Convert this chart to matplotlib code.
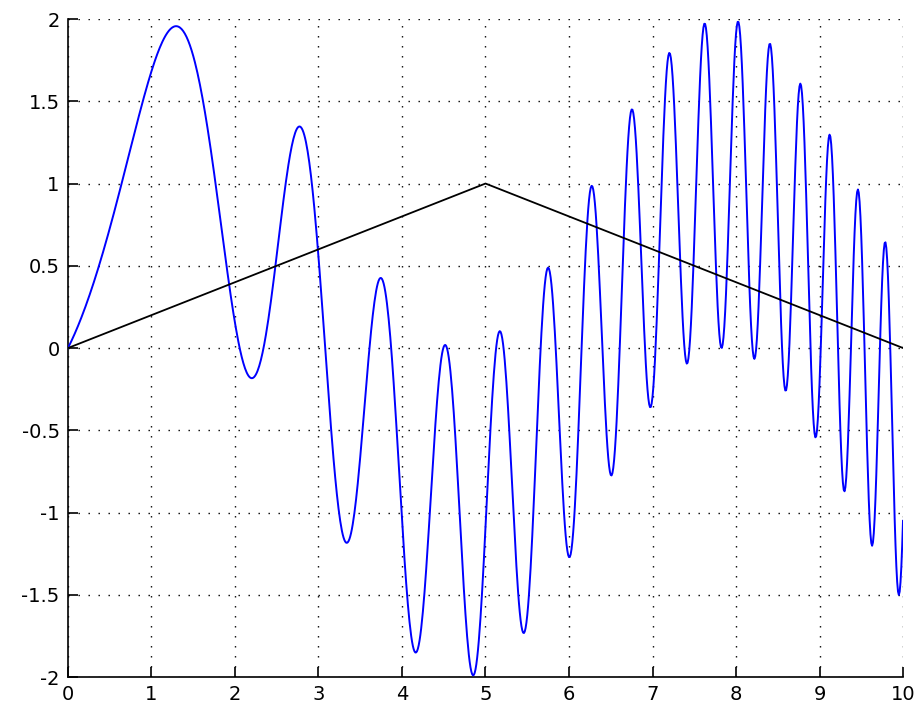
import numpy as np
import matplotlib; matplotlib.use("Agg")
import matplotlib.pyplot as plt

plt.rcParams["axes.unicode_minus"]=False
plt.rcParams["font.family"]=["DejaVu Sans"]

# tent line (black)
TRI_X=[0,5,10]
TRI_Y=[0,1,0]
# blue wave: sampled every 0.01 on [0,10]; its shape is sin(x)+sin(x^2)
WAVE_X=np.arange(0,1001)/100
WAVE_Y=np.sin(WAVE_X)+np.sin(WAVE_X**2)
XTICKS=list(range(0,11))
YTICKS=[-2,-1.5,-1,-0.5,0,0.5,1,1.5,2]
YLABELS=["-2","-1.5","-1","-0.5","0","0.5","1","1.5","2"]

fig=plt.figure(figsize=(9.15,7.05),dpi=100)
ax=fig.add_axes([0.0743,0.0397,0.9126,0.9333])
ax.plot(WAVE_X,WAVE_Y,color="#0000ff",lw=1.4,zorder=3)
ax.plot(TRI_X,TRI_Y,color="black",lw=1.3,zorder=3)
ax.set_xlim(0,10); ax.set_ylim(-2,2)
ax.set_xticks(XTICKS); ax.set_xticklabels([str(t) for t in XTICKS])
ax.set_yticks(YTICKS); ax.set_yticklabels(YLABELS)
ax.grid(True,color="black",lw=1.0,ls=(0,(1,6.2)))
for s in ["top","right"]: ax.spines[s].set_visible(False)
for s in ["left","bottom"]: ax.spines[s].set_linewidth(1.2)
ax.tick_params(direction="in",length=7,width=1.2,labelsize=14,pad=6)
ax.set_axisbelow(True)
fig.savefig("out.png",dpi=100)
